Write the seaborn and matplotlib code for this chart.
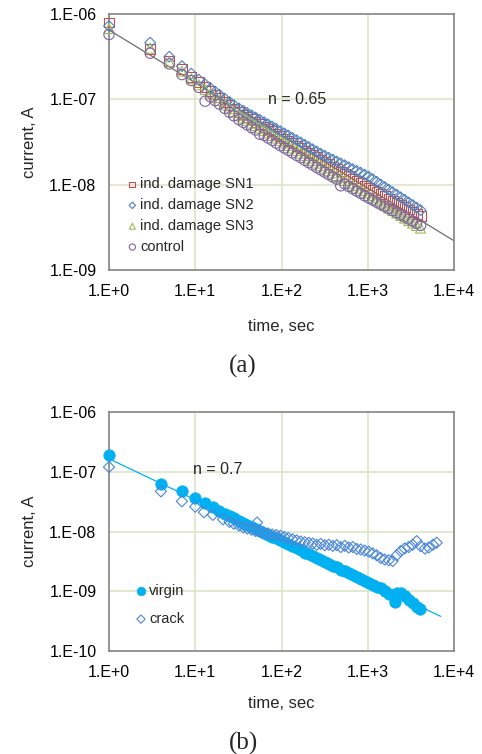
import numpy as np
import pandas as pd
import matplotlib
matplotlib.use("Agg")
import matplotlib.pyplot as plt
from matplotlib.ticker import LogLocator, FuncFormatter, NullFormatter
import seaborn as sns

# ---------------- data (panel a) ----------------
time_a = [1, 3, 5, 7, 9, 11, 13, 15, 17, 19, 22, 25, 28, 32, 36, 40, 45, 50, 56, 63,
          70, 78, 87, 97, 108, 120, 134, 150, 167, 186, 207, 230, 256, 285, 317, 353,
          393, 437, 486, 541, 602, 670, 745, 829, 922, 1026, 1141, 1270, 1413, 1572,
          1749, 1946, 2165, 2409, 2680, 2982, 3318, 3692, 4100]
# currents in nA
sn1_nA = [794, 389, 282, 229, 182, 158, 140, 126, 114, 105, 94, 85.3, 78.2, 71.3, 66.5,
          62.5, 58.2, 54.7, 51.2, 47.9, 44.9, 42.1, 39.4, 36.9, 34.7, 32.6, 30.5, 28.6,
          26.9, 25.2, 23.7, 22.2, 20.9, 19.6, 18.5, 17.3, 16.2, 15.2, 14.3, 13.4, 12.6,
          11.8, 11.1, 10.4, 9.8, 9.2, 8.7, 8.17, 7.71, 7.29, 6.86, 6.47, 6.10, 5.75,
          5.43, 5.12, 4.82, 4.55, 4.30]
sn2_nA = [724, 462, 316, 245, 200, 170, 150, 135, 123, 113.5, 102, 92.9, 85.5, 78.4,
          73.5, 69.3, 64.9, 61.2, 57.5, 53.9, 50.8, 47.9, 45.0, 42.4, 39.9, 37.6, 35.3,
          33.1, 31.2, 29.3, 27.6, 26.0, 24.5, 23.0, 21.8, 20.7, 19.7, 18.7, 17.8, 16.9,
          16.0, 15.2, 14.5, 13.8, 13.1, 12.4, 11.6, 10.8, 10.05, 9.4, 8.75, 8.17, 7.62,
          7.11, 6.64, 6.19, 5.77, 5.38, 5.03]
sn3_nA = [676, 398, 275, 214, 174, 148, 130, 116, 105, 96.4, 86.1, 78.0, 71.3, 64.9,
          60.5, 56.8, 52.7, 49.4, 46.1, 43.0, 40.3, 37.7, 35.2, 33.0, 30.8, 28.8, 26.9,
          25.1, 23.4, 21.9, 20.5, 19.1, 17.9, 16.7, 15.7, 14.6, 13.7, 12.8, 12.0, 11.2,
          10.4, 9.8, 9.1, 8.55, 8.0, 7.46, 6.97, 6.50, 6.08, 5.70, 5.31, 4.97, 4.65,
          4.35, 4.06, 3.80, 3.55, 3.32, 3.10]
control_nA = [575, 347, 260, 195, 166, 138, 95, 107, 96.8, 88.1, 78.3, 70.5, 64.1, 57.8,
              53.7, 50.2, 46.6, 43.7, 39.0, 37.8, 35.2, 33.0, 30.7, 28.6, 26.9, 25.2,
              23.6, 22.0, 20.7, 19.3, 18.1, 17.0, 15.9, 14.9, 14.0, 13.1, 12.3, 11.6,
              9.7, 10.2, 9.5, 8.95, 8.4, 7.9, 7.4, 6.98, 6.61, 6.22, 5.89, 5.57, 5.25,
              4.97, 4.69, 4.44, 4.19, 3.95, 3.73, 3.52, 3.33]
series_a = ["ind. damage SN1", "ind. damage SN2", "ind. damage SN3", "control"]
fit_a_t = [1, 10000]
fit_a_A = [6.5e-7, 2.2e-9]

# ---------------- data (panel b) ----------------
time_virgin = [1, 4, 7, 10, 13, 16, 19, 22, 25, 28, 32, 36, 40, 45, 50, 56, 63, 70, 78,
               87, 97, 108, 120, 134, 150, 167, 186, 207, 230, 256, 285, 317, 353, 393,
               437, 486, 541, 602, 670, 745, 829, 922, 1026, 1141, 1270, 1413, 1572,
               1749, 1946, 2050, 2165, 2409, 2680, 2982, 3318, 3692, 4000]
virgin_nA = [190, 63, 48, 37, 30, 25.7, 22.4, 20.0, 18.0, 16.6, 15.2, 14.0, 13.0, 12.0,
             11.2, 10.35, 9.55, 8.9, 8.2, 7.7, 7.1, 6.6, 6.1, 5.7, 5.25, 4.85, 4.45,
             4.15, 3.9, 3.6, 3.35, 3.1, 2.9, 2.65, 2.5, 2.3, 2.15, 2.0, 1.85, 1.7, 1.6,
             1.48, 1.38, 1.29, 1.2, 1.12, 1.0, 0.89, 0.87, 0.65, 0.95, 0.93, 0.83, 0.71,
             0.63, 0.55, 0.50]
time_crack = [1, 4, 7, 10, 12.6, 16, 21, 25, 28, 32, 36, 40, 45, 50, 52, 56, 63, 70, 78,
              87, 97, 108, 120, 134, 150, 167, 186, 207, 230, 256, 285, 317, 353, 393,
              437, 486, 541, 602, 670, 745, 829, 922, 1026, 1141, 1270, 1413, 1572, 1749,
              1946, 2165, 2409, 2680, 2982, 3318, 3692, 4100, 4600, 5100, 5700, 6300]
crack_nA = [120, 47, 32, 26, 21, 19, 16, 14.5, 13.5, 12.6, 11.7, 11.2, 10.7, 10.2, 14.1,
            10.0, 9.5, 9.3, 8.9, 8.7, 8.5, 8.1, 7.8, 7.4, 7.1, 6.8, 6.6, 6.45, 6.3, 6.0,
            6.2, 5.9, 6.0, 5.75, 5.9, 5.5, 5.75, 5.4, 5.5, 5.1, 5.0, 4.8, 4.6, 4.3, 4.0,
            3.6, 3.4, 3.3, 3.2, 4.0, 4.7, 5.2, 5.5, 6.0, 6.9, 5.7, 5.2, 5.4, 6.0, 6.5]
series_b = ["virgin", "crack"]
fit_b_t = [1, 7000]
fit_b_A = [1.65e-7, 3.8e-10]

# ---------------- styling ----------------
sns.set_style("white")
plt.rcParams["font.family"] = ["Liberation Sans", "DejaVu Sans"]

GRID = "#d9e3c3"
SPINE = "#868686"

fig = plt.figure(figsize=(4.82, 7.54), dpi=100)
W, H = 482, 754
ax1 = fig.add_axes([109 / W, 1 - 270 / H, 345 / W, 256 / H])
ax2 = fig.add_axes([109 / W, 1 - 651 / H, 345 / W, 239 / H])


def style_axis(ax, ylim):
    ax.set_xscale("log")
    ax.set_yscale("log")
    ax.set_xlim(1, 1e4)
    ax.set_ylim(*ylim)
    ax.xaxis.set_major_locator(LogLocator(base=10, numticks=10))
    ax.yaxis.set_major_locator(LogLocator(base=10, numticks=10))
    ax.xaxis.set_minor_locator(LogLocator(base=10, subs=np.arange(2, 10), numticks=20))
    ax.yaxis.set_minor_locator(LogLocator(base=10, subs=np.arange(2, 10), numticks=20))
    ax.xaxis.set_minor_formatter(NullFormatter())
    ax.yaxis.set_minor_formatter(NullFormatter())
    ax.xaxis.set_major_formatter(FuncFormatter(
        lambda v, p: "1.E+%d" % int(round(np.log10(v)))))
    ax.yaxis.set_major_formatter(FuncFormatter(
        lambda v, p: "1.E%+03d" % int(round(np.log10(v)))))
    ax.grid(True, which="major", color=GRID, lw=1.1)
    ax.grid(False, which="minor")
    for s in ax.spines.values():
        s.set_color(SPINE)
        s.set_linewidth(1.2)
    ax.tick_params(which="both", direction="in", color=SPINE, width=0.8,
                   top=False, right=False, labelsize=11.5, labelcolor="black")
    ax.tick_params(which="major", length=3.5)
    ax.tick_params(which="minor", length=2.5)
    ax.tick_params(axis="x", pad=10)
    ax.tick_params(axis="y", pad=9)
    ax.set_axisbelow(True)


def set_labels(ax):
    ax.set_xlabel("time, sec", fontsize=12)
    ax.set_ylabel("current, A", fontsize=12)
    ax.xaxis.set_label_coords(0.5, -0.19)
    ax.yaxis.set_label_coords(-0.21, 0.5)


# ---------------- panel (a) ----------------
df_a = pd.DataFrame({
    "time": time_a * 4,
    "current": np.concatenate([sn1_nA, sn2_nA, sn3_nA, control_nA]) * 1e-9,
    "series": np.repeat(series_a, len(time_a)),
})
colors_a = ["#c0504d", "#4f81bd", "#9bbb59", "#8064a2"]
markers_a = ["s", "D", "^", "o"]
sizes_a = [50, 30, 52, 55]

style_axis(ax1, (1e-9, 1e-6))
sns.lineplot(x=fit_a_t, y=fit_a_A, ax=ax1, color="#6e6e6e", lw=0.9, zorder=2)
for name, c, m, s in zip(series_a, colors_a, markers_a, sizes_a):
    sub = df_a[df_a["series"] == name]
    sns.scatterplot(data=sub, x="time", y="current", ax=ax1, marker=m, s=s,
                    color=c, facecolor="none", edgecolor=c, linewidth=0.8,
                    label=name, clip_on=False, zorder=3)
set_labels(ax1)
ax1.text(150, 1e-7, "n = 0.65", ha="center", va="center", fontsize=11.5)
ax1.legend(loc="upper left", bbox_to_anchor=(0.055, 0.362), frameon=False,
           fontsize=10.5, markerscale=0.6, handlelength=0.6,
           handletextpad=0.25, labelspacing=0.47, borderpad=0,
           borderaxespad=0)

# ---------------- panel (b) ----------------
df_v = pd.DataFrame({"time": time_virgin, "current": np.array(virgin_nA) * 1e-9})
df_c = pd.DataFrame({"time": time_crack, "current": np.array(crack_nA) * 1e-9})

style_axis(ax2, (1e-10, 1e-6))
sns.lineplot(x=fit_b_t, y=fit_b_A, ax=ax2, color="#00b0f0", lw=0.9, zorder=2)
sns.scatterplot(data=df_v, x="time", y="current", ax=ax2, marker="o", s=68,
                color="#00b0f0", edgecolor="#00b0f0", linewidth=0.5,
                label=series_b[0], clip_on=False, zorder=3)
sns.scatterplot(data=df_c, x="time", y="current", ax=ax2, marker="D", s=32,
                color="#4a86d8", facecolor="none", edgecolor="#4a86d8",
                linewidth=0.8, label=series_b[1], clip_on=False, zorder=3)
set_labels(ax2)
ax2.text(18, 1.1e-7, "n = 0.7", ha="center", va="center", fontsize=11.5)
ax2.legend(loc="upper left", bbox_to_anchor=(0.08, 0.28), frameon=False,
           fontsize=10.5, markerscale=0.75, handlelength=0.6,
           handletextpad=0.25, labelspacing=0.95, borderpad=0,
           borderaxespad=0)

fig.text(243 / W, 1 - 366 / H, "(a)", ha="center", va="center", fontsize=18,
         family=["Liberation Serif", "DejaVu Serif"])
fig.text(243 / W, 1 - 743 / H, "(b)", ha="center", va="center", fontsize=18,
         family=["Liberation Serif", "DejaVu Serif"])

fig.savefig("out.png", dpi=100)
